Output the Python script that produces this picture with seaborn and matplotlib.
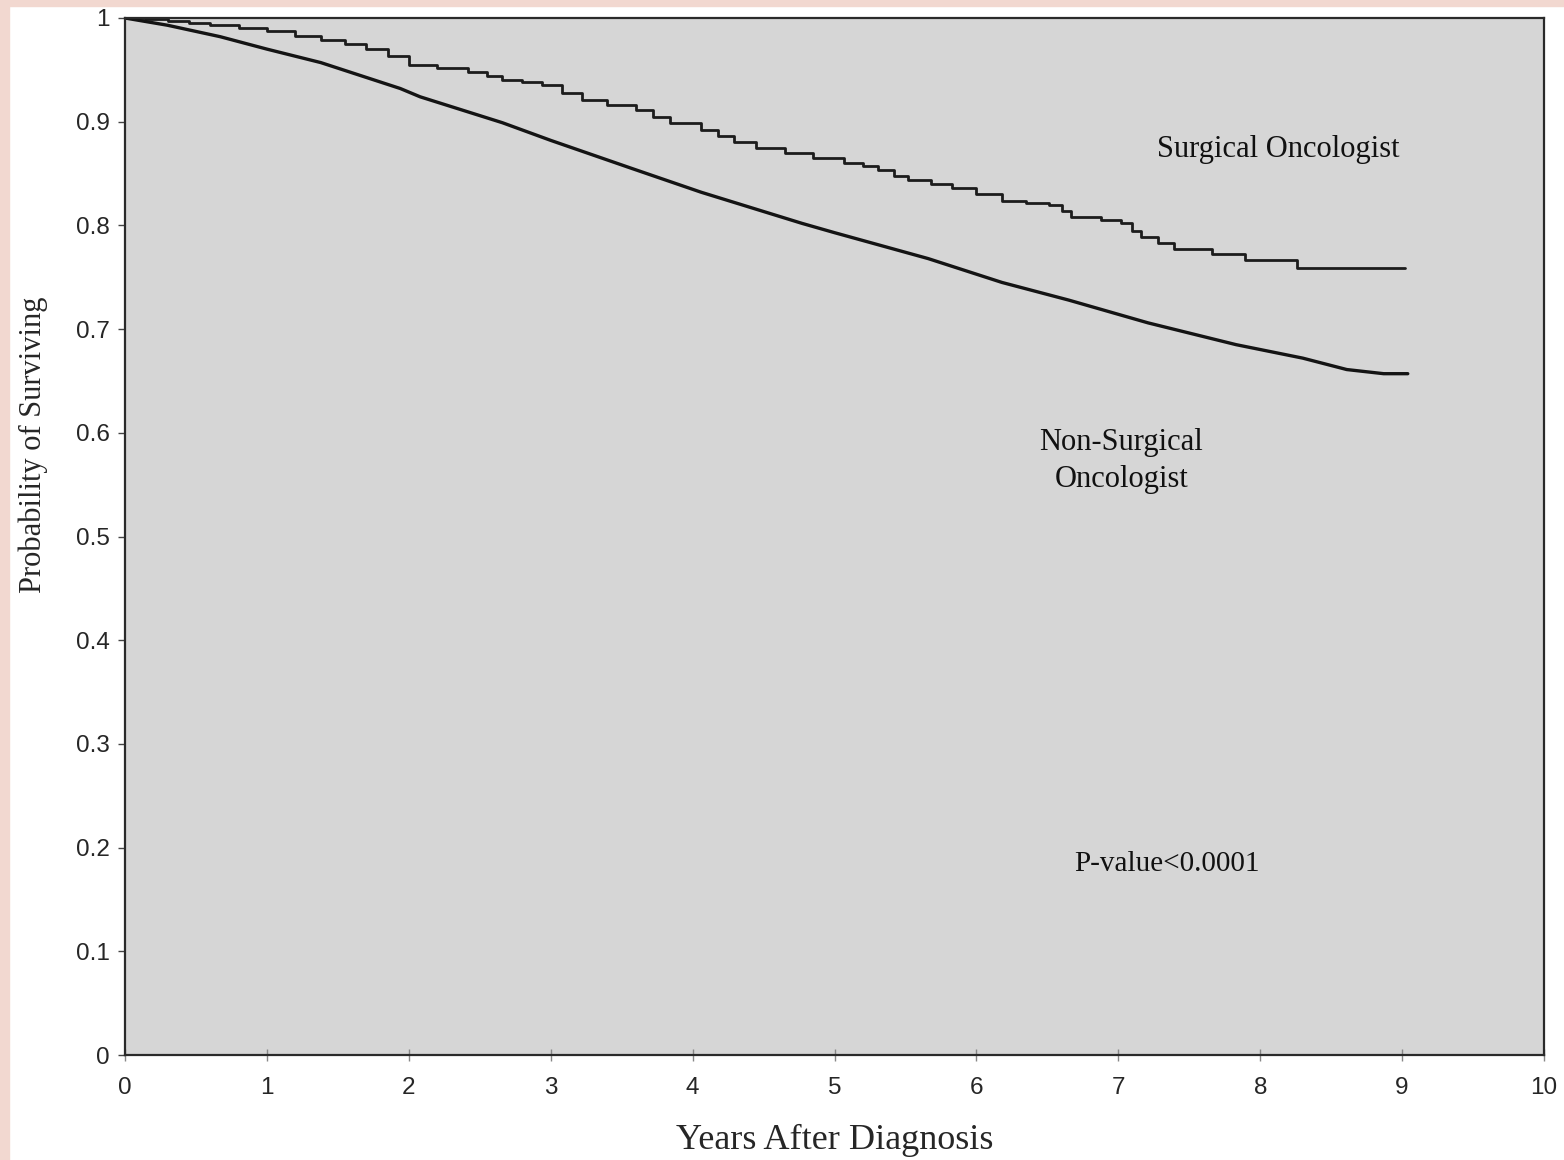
import matplotlib
matplotlib.use("Agg")
import matplotlib.pyplot as plt
import seaborn as sns
from matplotlib.patches import Rectangle

sns.set_style("white")
plt.rcParams['font.family'] = ['Liberation Sans', 'DejaVu Sans']

# Kaplan-Meier readings (years, survival probability)
surg_years = [0, 0.15, 0.3, 0.45, 0.6, 0.8, 1.0, 1.2, 1.38, 1.55, 1.7, 1.85, 2.0, 2.2,
              2.42, 2.55, 2.66, 2.8, 2.94, 3.08, 3.22, 3.4, 3.6, 3.72, 3.84, 4.06, 4.18,
              4.29, 4.45, 4.65, 4.85, 5.07, 5.2, 5.31, 5.42, 5.52, 5.68, 5.83, 6.0, 6.18,
              6.35, 6.51, 6.6, 6.67, 6.88, 7.02, 7.1, 7.16, 7.28, 7.39, 7.66, 7.89, 8.26,
              9.02]
surg_surv = [1.0, 0.999, 0.997, 0.995, 0.993, 0.990, 0.987, 0.983, 0.979, 0.975, 0.970,
             0.963, 0.955, 0.952, 0.948, 0.944, 0.940, 0.938, 0.935, 0.928, 0.921, 0.916,
             0.911, 0.905, 0.899, 0.892, 0.886, 0.880, 0.875, 0.870, 0.865, 0.860, 0.857,
             0.853, 0.848, 0.844, 0.840, 0.836, 0.830, 0.824, 0.822, 0.820, 0.814, 0.808,
             0.805, 0.802, 0.795, 0.789, 0.783, 0.777, 0.772, 0.767, 0.759, 0.759]

nonsurg_years = [0, 0.3, 0.67, 1.0, 1.38, 1.94, 2.08, 2.66, 3.0, 3.57, 4.06, 4.77, 5.0,
                 5.66, 6.18, 6.65, 7.21, 7.83, 8.30, 8.61, 8.87, 9.04]
nonsurg_surv = [1.0, 0.993, 0.982, 0.970, 0.957, 0.932, 0.924, 0.899, 0.882, 0.855, 0.832,
                0.802, 0.793, 0.768, 0.745, 0.728, 0.706, 0.685, 0.672, 0.661, 0.657, 0.657]

x_ticks = list(range(0, 11))
y_ticks = [0, 0.1, 0.2, 0.3, 0.4, 0.5, 0.6, 0.7, 0.8, 0.9, 1.0]
y_tick_labels = ["0", "0.1", "0.2", "0.3", "0.4", "0.5", "0.6", "0.7", "0.8", "0.9", "1"]

W, H = 1564, 1160
fig = plt.figure(figsize=(W / 100, H / 100), dpi=100, facecolor='white')

# pink scan border on left and top
fig.patches.append(Rectangle((0, 0), 9 / W, 1, transform=fig.transFigure,
                             color='#f2d8d0', zorder=-1))
fig.patches.append(Rectangle((0, 1 - 6 / H), 1, 6 / H, transform=fig.transFigure,
                             color='#f2d8d0', zorder=-1))

ax = fig.add_axes([125 / W, 1 - 1055 / H, (1544 - 125) / W, (1055 - 18) / H])
ax.set_facecolor('#d6d6d6')

sns.lineplot(x=surg_years, y=surg_surv, drawstyle='steps-post', color='#1c1c1c',
             lw=2.0, estimator=None, ax=ax)
sns.lineplot(x=nonsurg_years, y=nonsurg_surv, color='#141414',
             lw=2.4, estimator=None, ax=ax)

ax.set_xlim(0, 10)
ax.set_ylim(0, 1)
ax.set_xticks(x_ticks)
ax.set_yticks(y_ticks)
ax.set_yticklabels(y_tick_labels)
ax.tick_params(axis='y', direction='out', length=5, width=1, color='#444444',
               labelsize=17.5, pad=6, left=True)
ax.tick_params(axis='x', direction='inout', length=9, width=1, color='#888888',
               labelsize=17.5, pad=11, bottom=True)
for s in ax.spines.values():
    s.set_color('#2a2a2a')
    s.set_linewidth(1.6)

serif = ['Liberation Serif', 'DejaVu Serif']
ax.set_xlabel("Years After Diagnosis", fontsize=26, family=serif, labelpad=18)
ax.set_ylabel("Probability of Surviving", fontsize=22, family=serif)
ax.yaxis.set_label_coords(-0.054, 0.588)

ax.text(8.13, 0.873, "Surgical Oncologist", fontsize=22, family=serif,
        ha='center', va='center', color='#111111')
ax.text(7.02, 0.573, "Non-Surgical\nOncologist", fontsize=22, family=serif,
        ha='center', va='center', linespacing=1.35, color='#111111')
ax.text(7.34, 0.184, "P-value<0.0001", fontsize=21, family=serif,
        ha='center', va='center', color='#111111')

fig.savefig('out.png', dpi=100)
